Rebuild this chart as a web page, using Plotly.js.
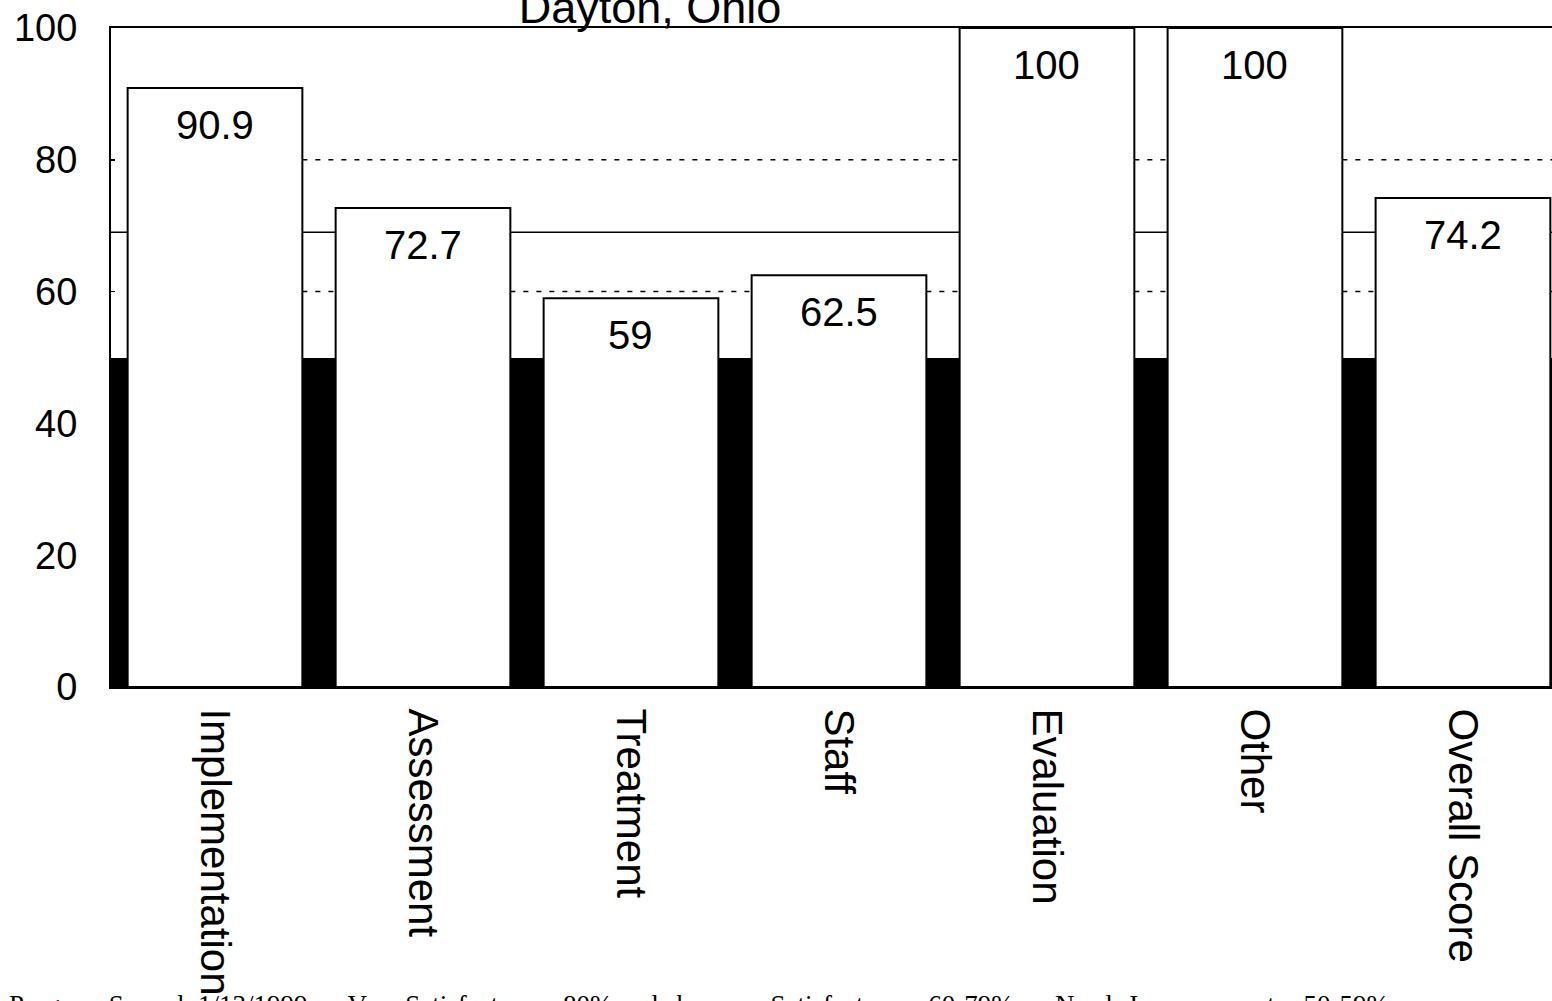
<!DOCTYPE html>
<html>
<head>
<meta charset="utf-8">
<script src="https://cdn.plot.ly/plotly-3.0.1.min.js"></script>
<style>
  html, body { margin: 0; padding: 0; background: #ffffff; }
  #chart { width: 1552px; height: 1001px; }
</style>
</head>
<body>
<div id="chart"></div>
<script>
// ---- data ----
const categories = ["Implementation", "Assessment", "Treatment", "Staff", "Evaluation", "Other", "Overall Score"];
const scores = [90.9, 72.7, 59, 62.5, 100, 100, 74.2];
const minimumLevel = [50, 50, 50, 50, 50, 50, 50];
const scoreLabels = ["90.9", "72.7", "59", "62.5", "100", "100", "74.2"];
const yTicks = [0, 20, 40, 60, 80, 100];
const averageLine = 69;
const thresholdLines = [60, 80];
const chartTitle = "Dayton, Ohio";
const footnote = "Program Scored: 1/13/1999.     Very Satisfactory = 80% and above;     Satisfactory = 60-79%;     Needs Improvement = 50-59%";

const FONT = "Arial, 'Liberation Sans', sans-serif";

const traces = [
  {
    type: "bar",
    x: categories,
    y: minimumLevel,
    width: 1,
    marker: { color: "#000000", line: { width: 0 } },
    hoverinfo: "skip",
    showlegend: false
  },
  {
    type: "bar",
    x: categories,
    y: scores,
    width: 0.84,
    marker: { color: "#ffffff", line: { color: "#000000", width: 2 } },
    showlegend: false
  }
];

const shapes = [
  {
    type: "line", xref: "x", yref: "y", layer: "below",
    x0: -0.5, x1: 6.5, y0: averageLine, y1: averageLine,
    line: { color: "#000000", width: 1.5 }
  }
].concat(thresholdLines.map(v => ({
  type: "line", xref: "x", yref: "y", layer: "below",
  x0: 0.42, x1: 6.5, y0: v, y1: v,
  line: { color: "#000000", width: 1.5, dash: "5px,8px" }
})));

const annotations = categories.map((c, i) => ({
  x: c, y: scores[i], xref: "x", yref: "y",
  text: scoreLabels[i], showarrow: false,
  yanchor: "middle", yshift: -37,
  font: { family: FONT, size: 40, color: "#000000" }
}));

annotations.push({
  xref: "paper", yref: "paper", x: -0.072, y: -0.457,
  xanchor: "left", yanchor: "top", showarrow: false,
  text: footnote,
  font: { family: "'Liberation Serif', 'Times New Roman', serif", size: 27, color: "#000000" }
});

const layout = {
  width: 1552, height: 1001,
  paper_bgcolor: "#ffffff", plot_bgcolor: "#ffffff",
  margin: { l: 111, r: 0, t: 28, b: 314, pad: 0 },
  barmode: "overlay",
  bargap: 0,
  showlegend: false,
  title: {
    text: chartTitle,
    font: { family: FONT, size: 45, color: "#000000" },
    xref: "container", yref: "container",
    x: 650 / 1552, xanchor: "center",
    y: 1 - 23 / 1001, yanchor: "bottom"
  },
  xaxis: {
    type: "category",
    range: [-0.5, 6.428],
    showline: true, mirror: true, linecolor: "#000000", linewidth: 2,
    showgrid: false, zeroline: false,
    ticks: "",
    tickangle: 90,
    ticklabelstandoff: 11,
    tickfont: { family: FONT, size: 42, color: "#000000" }
  },
  yaxis: {
    range: [0, 100],
    tickvals: yTicks,
    ticktext: yTicks.map(String),
    showline: true, mirror: true, linecolor: "#000000", linewidth: 2,
    showgrid: false, zeroline: false,
    ticks: "inside", ticklen: 4, tickwidth: 1.5, tickcolor: "#000000",
    ticklabelstandoff: 24,
    tickfont: { family: FONT, size: 38, color: "#000000" }
  },
  shapes: shapes,
  annotations: annotations
};

Plotly.newPlot("chart", traces, layout, { displayModeBar: false, staticPlot: true });
</script>
</body>
</html>
